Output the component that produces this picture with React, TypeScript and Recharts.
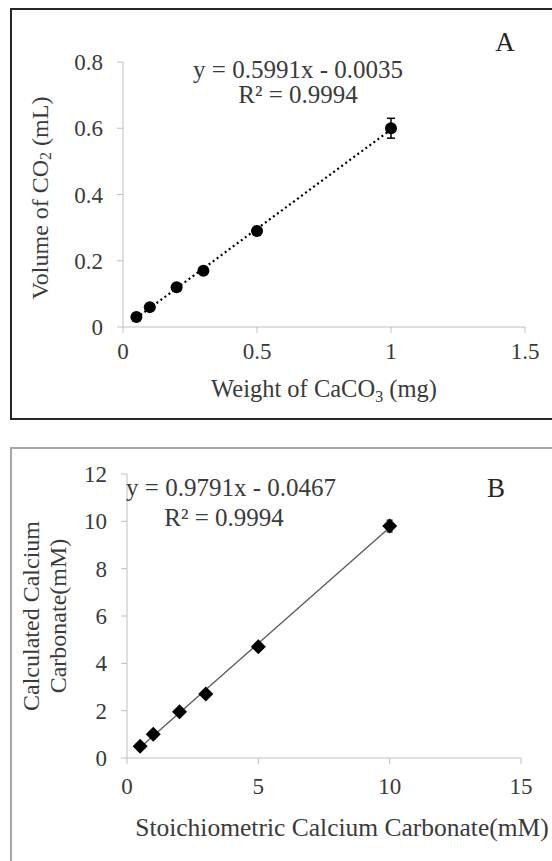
import React from 'react';
import { ScatterChart, Scatter, XAxis, YAxis, ErrorBar } from 'recharts';

// Panel A: CO2 volume vs CaCO3 weight
const weightA = [0.05, 0.1, 0.2, 0.3, 0.5, 1.0];
const volumeA = [0.03, 0.06, 0.12, 0.17, 0.29, 0.6];
const errA = [0.004, 0.004, 0.005, 0.005, 0.006, 0.03];
const trendXA = [0.05, 1.0];
const trendYA = [0.027, 0.596];
const xTicksA = [0, 0.5, 1, 1.5];
const yTicksA = [0, 0.2, 0.4, 0.6, 0.8];

// Panel B: calculated vs stoichiometric calcium carbonate
const stoichB = [0.5, 1, 2, 3, 5, 10];
const calcB = [0.5, 1.0, 1.95, 2.7, 4.7, 9.8];
const errB = [0.05, 0.05, 0.06, 0.06, 0.08, 0.25];
const trendXB = [0.5, 10];
const trendYB = [0.44, 9.74];
const xTicksB = [0, 5, 10, 15];
const yTicksB = [0, 2, 4, 6, 8, 10, 12];

const FONT = "'Liberation Serif', 'Times New Roman', serif";
const TEXT = '#3a3a3a';
const AXIS = '#bfbfbf';

const pointsA = weightA.map((x, i) => ({ x, y: volumeA[i], err: errA[i] }));
const lineA = trendXA.map((x, i) => ({ x, y: trendYA[i] }));
const pointsB = stoichB.map((x, i) => ({ x, y: calcB[i], err: errB[i] }));
const lineB = trendXB.map((x, i) => ({ x, y: trendYB[i] }));

const tickStyle = { fill: TEXT, fontSize: 23, fontFamily: FONT };

const Dot = (props: any) => <circle cx={props.cx} cy={props.cy} r={6} fill="#000" />;
const Diamond = (props: any) => {
  const { cx, cy } = props;
  const r = 7.5;
  return <polygon points={`${cx},${cy - r} ${cx + r},${cy} ${cx},${cy + r} ${cx - r},${cy}`} fill="#000" />;
};
const NoShape = () => <g />;

const App: React.FC = () => {
  return (
    <div style={{ position: 'absolute', left: 0, top: 0, width: 552, height: 861, background: '#fff', overflow: 'hidden' }}>
      {/* panel frames */}
      <div style={{ position: 'absolute', left: 10, top: 8, width: 600, height: 408, border: '2px solid #262626' }} />
      <div style={{ position: 'absolute', left: 10, top: 447, width: 600, height: 500, border: '2px solid #a6a6a6' }} />

      <div style={{ position: 'absolute', left: 0, top: 0 }}>
        <ScatterChart width={552} height={420} margin={{ top: 62, right: 27, bottom: 53, left: 63 }}>
          <XAxis
            type="number"
            dataKey="x"
            domain={[0, 1.5]}
            ticks={xTicksA}
            height={40}
            stroke={AXIS}
            tickSize={6}
            tickMargin={10}
            tick={tickStyle}
          />
          <YAxis
            type="number"
            dataKey="y"
            domain={[0, 0.8]}
            ticks={yTicksA}
            width={60}
            stroke={AXIS}
            tickSize={6}
            tickMargin={14}
            tick={tickStyle}
          />
          <Scatter
            data={lineA}
            line={{ stroke: '#000', strokeWidth: 2.2, strokeDasharray: '2 3' }}
            shape={NoShape}
            isAnimationActive={false}
          />
          <Scatter data={pointsA} shape={Dot} isAnimationActive={false}>
            <ErrorBar dataKey="err" direction="y" width={4} stroke="#000" strokeWidth={1.5} />
          </Scatter>
        </ScatterChart>
      </div>

      <div style={{ position: 'absolute', left: 0, top: 430 }}>
        <ScatterChart width={552} height={431} margin={{ top: 44, right: 31, bottom: 63, left: 67 }}>
          <XAxis
            type="number"
            dataKey="x"
            domain={[0, 15]}
            ticks={xTicksB}
            height={40}
            stroke={AXIS}
            tickSize={6}
            tickMargin={14}
            tick={tickStyle}
          />
          <YAxis
            type="number"
            dataKey="y"
            domain={[0, 12]}
            ticks={yTicksB}
            width={60}
            stroke={AXIS}
            tickSize={6}
            tickMargin={14}
            tick={tickStyle}
          />
          <Scatter
            data={lineB}
            line={{ stroke: '#595959', strokeWidth: 1.3 }}
            shape={NoShape}
            isAnimationActive={false}
          />
          <Scatter data={pointsB} shape={Diamond} isAnimationActive={false}>
            <ErrorBar dataKey="err" direction="y" width={3} stroke="#000" strokeWidth={1.2} />
          </Scatter>
        </ScatterChart>
      </div>

      {/* titles, equations and panel letters */}
      <svg width={552} height={861} style={{ position: 'absolute', left: 0, top: 0, pointerEvents: 'none' }}>
        <g fontFamily={FONT} fill={TEXT}>
          <text x={505} y={42} fontSize={27} textAnchor="middle" dominantBaseline="central" fill="#262626">A</text>
          <text x={298} y={69} fontSize={25} textAnchor="middle" dominantBaseline="central">y = 0.5991x - 0.0035</text>
          <text x={298} y={94} fontSize={25} textAnchor="middle" dominantBaseline="central">R² = 0.9994</text>
          <text x={324} y={397} fontSize={24.5} textAnchor="middle">
            Weight of CaCO<tspan fontSize={16} dy={5}>3</tspan><tspan dy={-5}> (mg)</tspan>
          </text>
          <text x={0} y={0} fontSize={24} textAnchor="middle" dominantBaseline="central" transform="translate(40,198) rotate(-90)">
            Volume of CO<tspan fontSize={16} dy={5}>2</tspan><tspan dy={-5}> (mL)</tspan>
          </text>

          <text x={496} y={488} fontSize={27} textAnchor="middle" dominantBaseline="central" fill="#262626">B</text>
          <text x={231} y={487} fontSize={25} textAnchor="middle" dominantBaseline="central">y = 0.9791x - 0.0467</text>
          <text x={224} y={517} fontSize={25} textAnchor="middle" dominantBaseline="central">R² = 0.9994</text>
          <text x={342} y={827} fontSize={25.5} textAnchor="middle" dominantBaseline="central">Stoichiometric Calcium Carbonate(mM)</text>
          <text x={0} y={0} fontSize={24} textAnchor="middle" dominantBaseline="central" transform="translate(31,616) rotate(-90)">Calculated Calcium</text>
          <text x={0} y={0} fontSize={24} textAnchor="middle" dominantBaseline="central" transform="translate(58,616) rotate(-90)">Carbonate(mM)</text>
        </g>
      </svg>
    </div>
  );
};

export default App;
